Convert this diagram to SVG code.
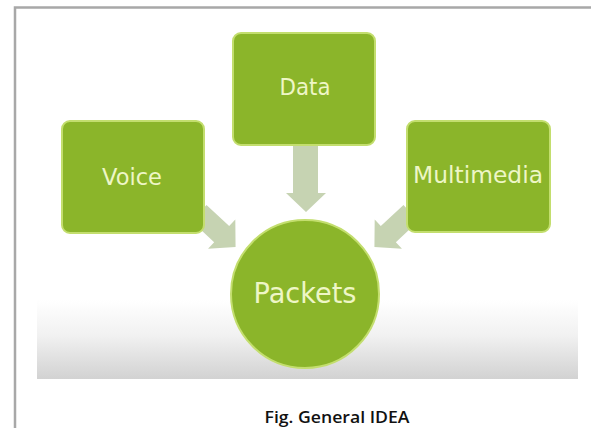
<svg xmlns="http://www.w3.org/2000/svg" width="591" height="428" viewBox="0 0 591 428">
  <defs>
    <linearGradient id="floor" x1="0" y1="0" x2="0" y2="1">
      <stop offset="0" stop-color="#ffffff"/>
      <stop offset="0.45" stop-color="#f1f1f1"/>
      <stop offset="1" stop-color="#d2d2d2"/>
    </linearGradient>
  </defs>
  <style>
    .box { fill: #8bb52a; stroke: #c3de6e; stroke-width: 2; }
    .lbl { font-family: "DejaVu Sans", "Open Sans", sans-serif; fill: #eef6c6; text-anchor: middle; }
    .arr { fill: #c6d3b2; }
    .frame { stroke: #a8a8a8; stroke-width: 2.5; fill: none; }
    .cap { font-family: "Open Sans", "Liberation Sans", sans-serif; font-weight: 600; fill: #111; text-anchor: middle; }
  </style>
  <rect x="0" y="0" width="591" height="428" fill="#ffffff"/>
  <!-- photo background -->
  <rect x="37" y="300" width="541" height="79" fill="url(#floor)"/>
  <!-- frame -->
  <path class="frame" d="M15 428 V7.5 H591"/>
  <g id="connectors">
    <polygon class="arr" points="293,146 318,146 318,193 326,193 306,212 286,193 293,193"/>
    <polygon class="arr" transform="translate(199,213) rotate(43)" points="0,-11 31,-11 31,-20 50,0 31,20 31,11 0,11"/>
    <polygon class="arr" transform="translate(411,213) rotate(137)" points="0,-11 31,-11 31,-20 50,0 31,20 31,11 0,11"/>
  </g>
  <g id="data">
    <rect class="box" x="233" y="33" width="142" height="112" rx="8"/>
    <text class="lbl" x="305" y="95" font-size="23" textLength="51" lengthAdjust="spacingAndGlyphs">Data</text>
  </g>
  <g id="voice">
    <rect class="box" x="62" y="121" width="142" height="112" rx="8"/>
    <text class="lbl" x="132" y="185" font-size="23" textLength="60" lengthAdjust="spacingAndGlyphs">Voice</text>
  </g>
  <g id="multimedia">
    <rect class="box" x="407" y="121" width="143" height="111" rx="8"/>
    <text class="lbl" x="478" y="183" font-size="23" textLength="130" lengthAdjust="spacingAndGlyphs">Multimedia</text>
  </g>
  <g id="packets">
    <circle class="box" cx="305" cy="294" r="74"/>
    <text class="lbl" x="305" y="303" font-size="29" textLength="103" lengthAdjust="spacingAndGlyphs">Packets</text>
  </g>
  <text class="cap" x="337" y="423" font-size="17" textLength="145" lengthAdjust="spacingAndGlyphs">Fig. General IDEA</text>
</svg>
